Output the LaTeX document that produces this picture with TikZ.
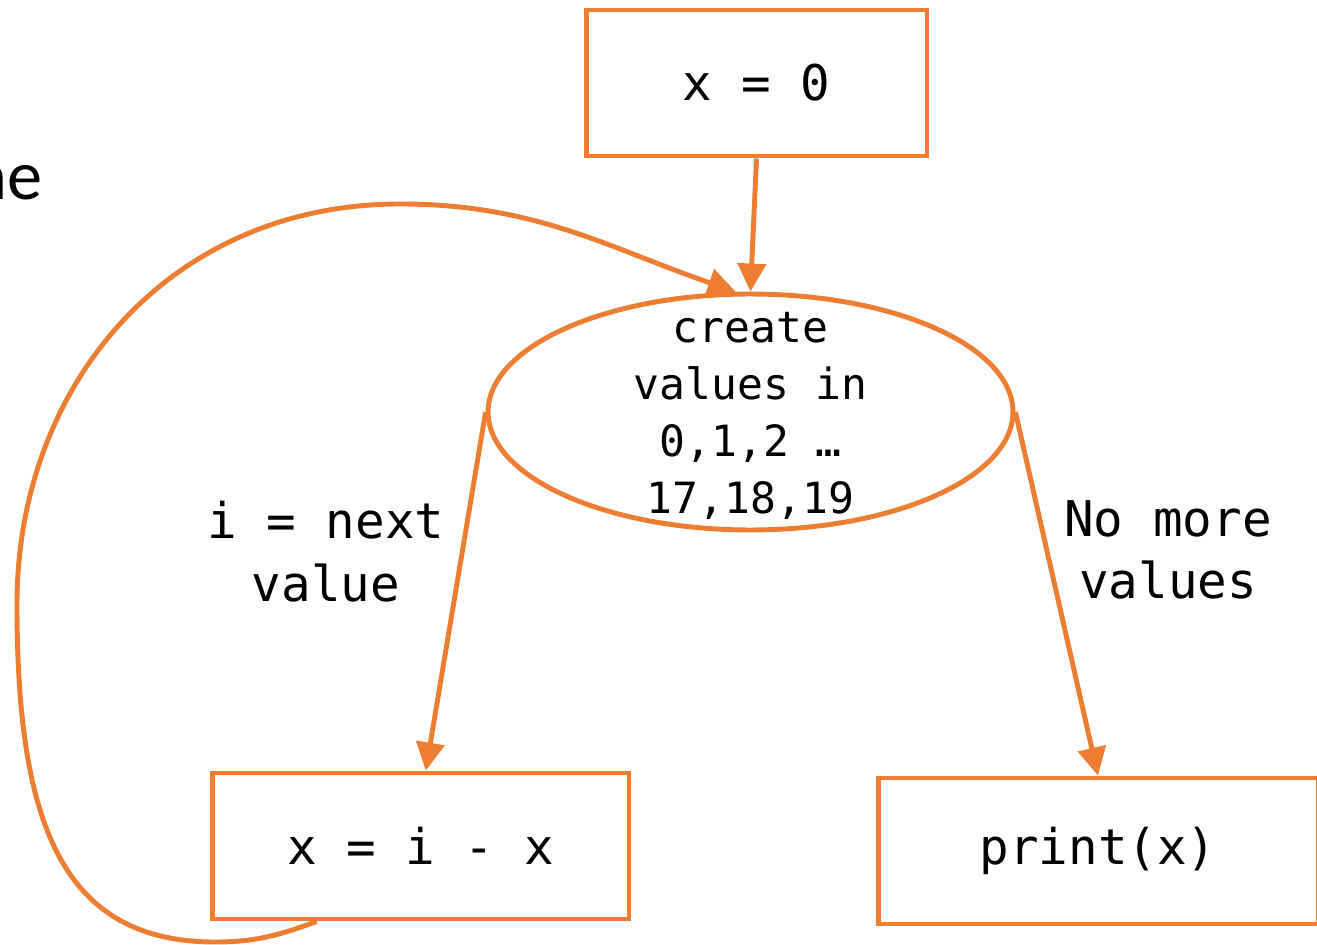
\documentclass[tikz,border=0pt]{standalone}
\usepackage{fontspec}
\setmonofont{DejaVu Sans Mono}
\newfontfamily\slidefont{Carlito}
\usetikzlibrary{arrows.meta,shapes.geometric}
\definecolor{flow}{HTML}{ED7D31}
\tikzset{
  box/.style={draw=flow,line width=2.8pt,minimum width=#1,minimum height=2.92cm,inner sep=0pt,
    font=\ttfamily\fontsize{28}{35.7}\selectfont},
  lbl/.style={align=center,inner sep=0pt,font=\ttfamily\fontsize{28}{35.7}\selectfont},
  flowarrow/.style={draw=flow,line width=2.8pt,-{Triangle[length=0.56cm,width=0.56cm]}}
}

\begin{document}
\begin{tikzpicture}[x=0.02cm,y=0.02cm]
\useasboundingbox (0,0) rectangle (1317,-945);
\clip (0,0) rectangle (1317,-945);
% cut-off slide text on the left
\node[anchor=base east,inner sep=0pt,font=\slidefont\fontsize{40}{48}\selectfont] (cutword) at (43,-200) {ne};
\node[anchor=base east,inner sep=0pt,font=\slidefont\fontsize{40}{48}\selectfont] (cutdot) at (4,-336) {.};
% nodes
\node[box=6.82cm] (init) at (756.5,-83) {x = 0};
\node[draw=flow,line width=2.8pt,ellipse,minimum width=10.5cm,minimum height=4.72cm,inner sep=0pt] (vals) at (750.5,-412) {};
\node[align=center,inner sep=0pt,font=\ttfamily\fontsize{24.5}{32.4}\selectfont] (valstext) at (750.5,-416) {create\\values in\\0,1,2 …\\17,18,19};
\node[box=8.34cm] (update) at (420.5,-846) {x = i - x};
\node[box=8.8cm] (show) at (1098,-851) {print(x)};
% arrows
\draw[flowarrow] (init.south) -- (vals.north);
\draw[flowarrow] (vals.west) -- (update.86);
\draw[flowarrow] (vals.east) -- (show.north);
\draw[flowarrow] (update.216) to[out=200,in=0] (215,-942)
  .. controls (60,-942) and (17,-820) .. (17,-604)
  .. controls (17,-384) and (170,-204) .. (400,-204)
  to[out=0,in=161] (vals.97);
% labels
\node[lbl] (nextlbl) at (326,-552) {i = next\\value};
\node[lbl] (morelbl) at (1168,-550) {No more\\values};
\end{tikzpicture}
\end{document}
